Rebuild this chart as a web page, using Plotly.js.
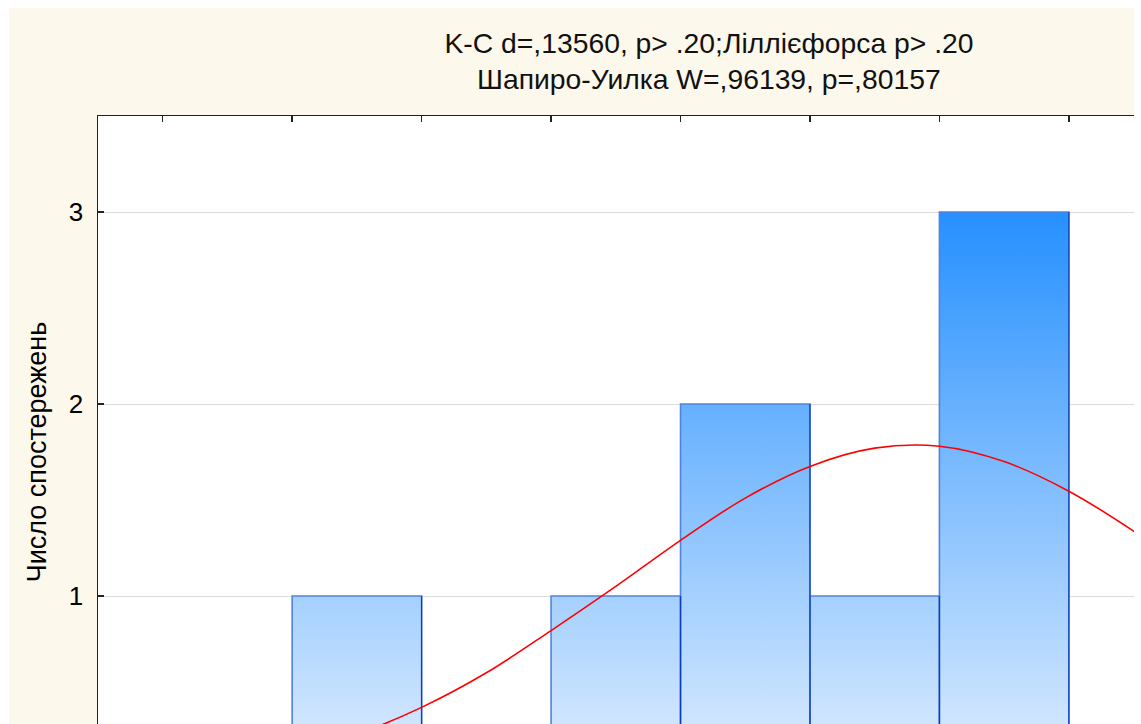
<!DOCTYPE html>
<html>
<head>
<meta charset="utf-8">
<script src="https://cdn.plot.ly/plotly-3.0.1.min.js"></script>
<style>
  html, body { margin: 0; padding: 0; background: #ffffff; overflow: hidden; }
  #frame { position: absolute; left: 9px; top: 8px; width: 1125px; height: 716px; overflow: hidden; background: #fdf8ec; }
  #chart { width: 1331px; height: 840px; }
</style>
</head>
<body>
<div id="frame"><div id="chart"></div></div>
<script>
// ---- data ----
const binEdges = [0, 1, 2, 3, 4, 5, 6, 7, 8];
const counts   = [0, 1, 0, 1, 2, 1, 3, 0];
const yTicks   = [1, 2, 3];
// fitted normal curve, values at half-bin steps
const curveX   = [1.0, 1.5, 2.0, 2.5, 3.0, 3.5, 4.0, 4.5, 5.0, 5.5, 6.0, 6.5, 7.0, 7.5, 8.0];
const curveY   = [0.18, 0.28, 0.42, 0.60, 0.82, 1.05, 1.29, 1.51, 1.675, 1.77, 1.78, 1.70, 1.546, 1.338, 1.10];
const titleLine1 = 'K-C d=,13560, p> .20;Ліллієфорса p> .20';
const titleLine2 = 'Шапиро-Уилка W=,96139, p=,80157';
const yTitle = 'Число спостережень';

// build bar outlines from bin edges and counts
const bx = [], by = [], rx = [], ry = [];
for (let i = 0; i < counts.length; i++) {
  if (counts[i] > 0) {
    bx.push(binEdges[i], binEdges[i], binEdges[i + 1], binEdges[i + 1], binEdges[i], null);
    by.push(0, counts[i], counts[i], 0, 0, null);
    rx.push(binEdges[i + 1], binEdges[i + 1], null);
    ry.push(0, counts[i], null);
  }
}

const FONT = 'Liberation Sans, Arial, sans-serif';

const traces = [
  {
    type: 'scatter', mode: 'lines', x: bx, y: by,
    fill: 'toself', connectgaps: false,
    fillgradient: { type: 'vertical', start: 0, stop: 3,
      colorscale: [[0, '#e4f0fe'], [1, '#2690ff']] },
    line: { color: '#5283db', width: 1.6 },
    hoverinfo: 'skip', showlegend: false
  },
  {
    type: 'scatter', mode: 'lines', x: rx, y: ry, connectgaps: false,
    line: { color: '#0b3dbf', width: 1.2 },
    hoverinfo: 'skip', showlegend: false
  },
  {
    type: 'scatter', mode: 'lines', x: curveX, y: curveY,
    line: { color: '#ff0000', width: 1.6, shape: 'spline', smoothing: 1 },
    showlegend: false
  }
];

const layout = {
  width: 1331, height: 840,
  margin: { l: 89, r: 20, t: 108, b: 60 },
  paper_bgcolor: '#fdf8ec',
  plot_bgcolor: '#ffffff',
  font: { family: FONT, color: '#000000', size: 20 },
  showlegend: false,
  title: { text: titleLine1, font: { family: FONT, size: 28.3, color: '#111111' },
           x: 0.5, xref: 'paper', xanchor: 'center',
           y: 1 - 35 / 840, yref: 'container', yanchor: 'middle' },
  annotations: [
    { text: titleLine2, xref: 'paper', yref: 'paper', x: 0.5, y: (780 - 71) / 672,
      xanchor: 'center', yanchor: 'middle', showarrow: false,
      font: { family: FONT, size: 28.3, color: '#111111' } }
  ],
  xaxis: {
    side: 'top', range: [-0.5, 8.94],
    tickmode: 'array', tickvals: binEdges,
    showticklabels: false, ticks: 'inside', ticklen: 6, tickwidth: 1.5, tickcolor: '#222222',
    showline: true, linecolor: '#222222', linewidth: 1.5,
    showgrid: false, zeroline: false, fixedrange: true
  },
  yaxis: {
    range: [0, 3.5],
    tickmode: 'array', tickvals: yTicks, ticktext: yTicks.map(String),
    ticks: 'inside', ticklen: 6, tickwidth: 1.5, tickcolor: '#222222',
    ticklabelstandoff: 8,
    tickfont: { family: FONT, size: 26, color: '#000000' },
    showline: true, linecolor: '#222222', linewidth: 1.5,
    showgrid: true, gridcolor: '#dcdcdc', gridwidth: 1,
    zeroline: false, fixedrange: true,
    title: { text: yTitle, font: { family: FONT, size: 27, color: '#000000' }, standoff: 14 }
  }
};

Plotly.newPlot('chart', traces, layout, { displayModeBar: false, staticPlot: true });
</script>
</body>
</html>
